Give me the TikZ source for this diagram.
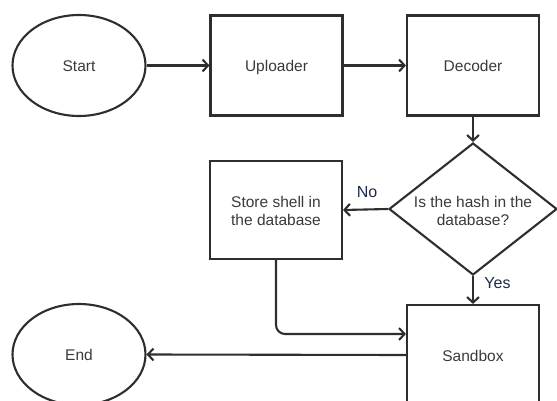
\documentclass[tikz,border=0pt]{standalone}
\usepackage{fontspec}
\setmainfont{Liberation Sans}
\usetikzlibrary{shapes.geometric,arrows.meta}
\definecolor{linec}{HTML}{2E2E2E}
\definecolor{textc}{HTML}{3A3A3A}
\definecolor{labc}{HTML}{1C2A48}
\begin{document}
\begin{tikzpicture}[x=1pt,y=1pt,
  every node/.style={font=\fontsize{15.5}{18}\selectfont, text=textc},
  one/.style={text height=12pt, text depth=0pt},
  boxnode/.style={draw=linec, line width=2.1pt, rectangle, minimum width=132pt, minimum height=100pt, inner sep=0pt, align=center},
  ovalnode/.style={draw=linec, line width=2.1pt, ellipse, minimum width=133pt, minimum height=101pt, inner sep=0pt},
  decnode/.style={draw=linec, line width=2.1pt, diamond, minimum width=168pt, minimum height=132pt, inner sep=0pt},
  conn/.style={draw=linec, line width=2.1pt, -{Straight Barb[length=5.5pt,width=12pt,line width=2.1pt]}},
  lab/.style={text=labc, font=\fontsize{16}{18}\selectfont}
]
\useasboundingbox (0,0) rectangle (557,-401);
\clip (0,0) rectangle (557,-401);
\node[ovalnode, one] (start) at (79,-65.5) {Start};
\node[boxnode, one] (upl) at (276.5,-65.5) {Uploader};
\node[boxnode, one] (decod) at (473,-65.5) {Decoder};
\node[decnode] (hash) at (473,-209) {};
\node[align=center] (hashtext) at (473,-211) {Is the hash in the\\database?};
\node[boxnode, minimum height=98pt] (store) at (276,-210) {};
\node[align=center] (storetext) at (276,-211) {Store shell in\\the database};
\node[boxnode, one] (sandbox) at (473,-355) {Sandbox};
\node[ovalnode, one] (endn) at (79,-354.5) {End};

\draw[conn] (start) -- (upl);
\draw[conn] (upl) -- (decod);
\draw[conn] (decod) -- (hash.north);
\draw[conn] (hash.west) -- (store.east);
\draw[conn] (hash.south) -- (sandbox.north);
\draw[conn, rounded corners=9pt] (store.south) |- ([yshift=21pt]sandbox.west);
\draw[conn] (sandbox.west) -- (endn.east);

\node[lab] (nolab) at (367,-192) {No};
\node[lab] (yeslab) at (497.5,-283) {Yes};
\end{tikzpicture}
\end{document}
